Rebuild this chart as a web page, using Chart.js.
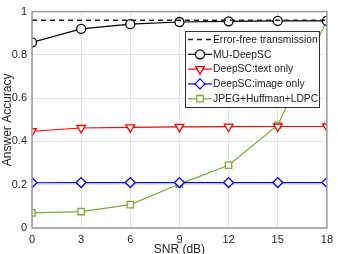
<!DOCTYPE html>
<html><head><meta charset="utf-8">
<script src="https://cdn.jsdelivr.net/npm/chart.js@4/dist/chart.umd.min.js"></script>
<style>html,body{margin:0;padding:0;background:#fff}#wrap{width:338px;height:254px}</style>
</head><body><div id="wrap"><canvas id="c" width="338" height="254"></canvas></div>
<script>
const snr = [0, 3, 6, 9, 12, 15, 18];
const errorFree = [0.96, 0.96, 0.96, 0.96, 0.96, 0.96, 0.96];
const muDeepSC = [0.858, 0.92, 0.942, 0.952, 0.955, 0.957, 0.957];
const textOnly = [0.447, 0.462, 0.465, 0.467, 0.468, 0.469, 0.469];
const imageOnly = [0.209, 0.210, 0.210, 0.210, 0.210, 0.210, 0.210];
const jpegLdpc = [0.07, 0.076, 0.108, 0.203, 0.29, 0.475, 0.96];
const yTicks = [0, 0.2, 0.4, 0.6, 0.8, 1];
const legendLabels = ['Error-free transmission', 'MU-DeepSC', 'DeepSC:text only', 'DeepSC:image only', 'JPEG+Huffman+LDPC'];

const FONT = 'Liberation Sans, Arial, sans-serif';
const pts = (arr) => arr.map((v, i) => ({x: snr[i], y: v}));

const datasets = [
  {label: legendLabels[0], data: pts(errorFree), borderColor: '#222', borderWidth: 1.5, borderDash: [5, 4], pointRadius: 0, pointStyle: false},
  {label: legendLabels[1], data: pts(muDeepSC), borderColor: '#000', borderWidth: 1.2, pointStyle: 'circle', pointRadius: 4.5, pointBorderWidth: 1.3, pointBackgroundColor: '#fff', pointBorderColor: '#000'},
  {label: legendLabels[2], data: pts(textOnly), borderColor: '#ff0000', borderWidth: 1.2, pointStyle: 'triangle', rotation: 180, pointRadius: 5, pointBorderWidth: 1.3, pointBackgroundColor: '#fff', pointBorderColor: '#ff0000'},
  {label: legendLabels[3], data: pts(imageOnly), borderColor: '#0000ff', borderWidth: 1.2, pointStyle: 'rectRot', pointRadius: 5, pointBorderWidth: 1.3, pointBackgroundColor: '#fff', pointBorderColor: '#0000ff'},
  {label: legendLabels[4], data: pts(jpegLdpc), borderColor: '#77ac30', borderWidth: 1.2, pointStyle: 'rect', pointRadius: 4.5, pointBorderWidth: 1.3, pointBackgroundColor: '#fff', pointBorderColor: '#77ac30'}
];

const boxPlugin = {
  id: 'box',
  afterDatasetsDraw(chart) {
    const {ctx, chartArea: a} = chart;
    ctx.save();
    ctx.strokeStyle = '#9a9a9a';
    ctx.lineWidth = 1.5;
    ctx.strokeRect(a.left, a.top, a.right - a.left, a.bottom - a.top);
    ctx.restore();
  }
};

const legendPlugin = {
  id: 'innerLegend',
  afterDraw(chart) {
    const {ctx} = chart;
    const x0 = 185, y0 = 31, w = 134, h = 76;
    ctx.save();
    ctx.fillStyle = '#fff';
    ctx.fillRect(x0, y0, w, h);
    ctx.strokeStyle = '#333';
    ctx.lineWidth = 1;
    ctx.strokeRect(x0 + 0.5, y0 + 0.5, w, h);
    ctx.font = '10.3px ' + FONT;
    ctx.textBaseline = 'middle';
    chart.data.datasets.forEach((ds, i) => {
      const cy = y0 + 8.5 + i * 14.8;
      ctx.beginPath();
      ctx.strokeStyle = ds.borderColor;
      ctx.lineWidth = ds.borderWidth;
      ctx.setLineDash(ds.borderDash || []);
      ctx.moveTo(188, cy);
      ctx.lineTo(212, cy);
      ctx.stroke();
      ctx.setLineDash([]);
      if (ds.pointStyle) {
        ctx.fillStyle = '#fff';
        ctx.strokeStyle = ds.pointBorderColor;
        ctx.lineWidth = ds.pointBorderWidth;
        Chart.helpers.drawPoint(ctx, {pointStyle: ds.pointStyle, radius: ds.pointRadius, rotation: ds.rotation || 0, borderWidth: ds.pointBorderWidth}, 200, cy);
      }
      ctx.fillStyle = '#222';
      ctx.fillText(ds.label, 213, cy + 0.5);
    });
    ctx.restore();
  }
};

new Chart(document.getElementById('c'), {
  type: 'line',
  data: {datasets},
  plugins: [boxPlugin, legendPlugin],
  options: {
    responsive: false,
    animation: false,
    devicePixelRatio: 1,
    layout: {padding: {top: 5, right: 9, left: 0, bottom: 0}},
    plugins: {legend: {display: false}, tooltip: {enabled: false}},
    elements: {line: {tension: 0}},
    scales: {
      x: {
        type: 'linear', min: 0, max: 18,
        afterBuildTicks(s) { s.ticks = snr.map(v => ({value: v})); },
        afterFit(s) { s.height = 26; },
        grid: {color: '#e3e3e3', drawTicks: false},
        border: {display: false},
        ticks: {padding: 5, color: '#262626', font: {family: FONT, size: 11}, maxRotation: 0},
        title: {display: true, text: 'SNR (dB)', color: '#262626', font: {family: FONT, size: 12}, padding: {top: 0, bottom: -3}}
      },
      y: {
        type: 'linear', min: 0, max: 1,
        afterBuildTicks(s) { s.ticks = yTicks.map(v => ({value: v})); },
        afterFit(s) { s.width = 32; },
        grid: {color: '#e3e3e3', drawTicks: false},
        border: {display: false},
        ticks: {padding: 5, color: '#262626', font: {family: FONT, size: 11}, callback: v => String(v)},
        title: {display: true, text: 'Answer Accuracy', color: '#262626', font: {family: FONT, size: 12}, padding: {top: 0, bottom: -1}}
      }
    }
  }
});
</script></body></html>
